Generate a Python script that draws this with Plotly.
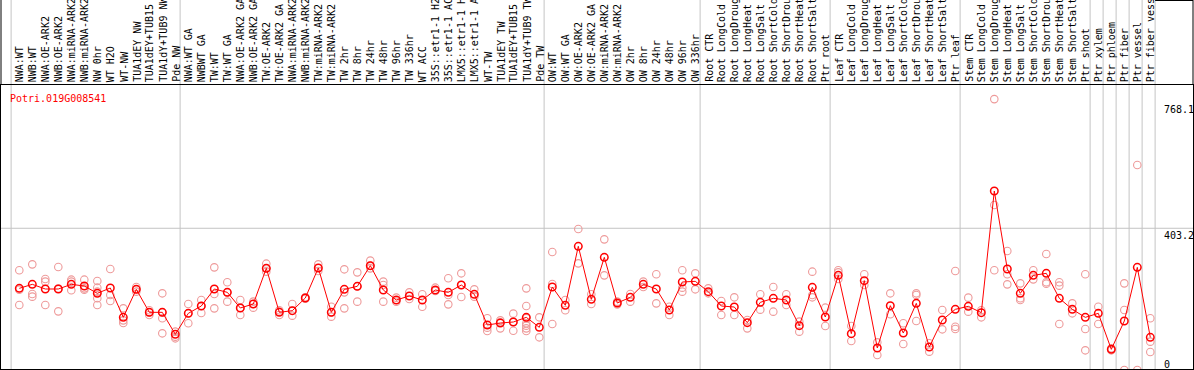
import plotly.graph_objects as go

gene = "Potri.019G008541"

labels = [
    "NWA:WT", "NWB:WT", "NWA:OE-ARK2", "NWB:OE-ARK2", "NWA:miRNA-ARK2", "NWB:miRNA-ARK2",
    "NW 0hr", "WT H2O", "WT-NW", "TUA1dEY NW", "TUA1dEY+TUB15 NW", "TUA1dY+TUB9 NW", "Pde NW",
    "NWA:WT GA", "NWBWT GA", "TW:WT", "TW:WT GA", "NWA:OE-ARK2 GA", "NWB:OE-ARK2 GA",
    "TW:OE-ARK2", "TW:OE-ARK2 GA", "NWA:miRNA-ARK2 GA", "NWB:miRNA-ARK2 GA", "TW:miRNA-ARK2",
    "TW:miRNA-ARK2 GA", "TW 2hr", "TW 8hr", "TW 24hr", "TW 48hr", "TW 96hr", "TW 336hr", "WT ACC",
    "35S::etr1-1 H2O", "35S::etr1-1 ACC", "LMX5::etr1-1 H2O", "LMX5::etr1-1 ACC", "WT-TW",
    "TUA1dEY TW", "TUA1dEY+TUB15 TW", "TUA1dY+TUB9 TW", "Pde TW",
    "OW:WT", "OW:WT GA", "OW:OE-ARK2", "OW:OE-ARK2 GA", "OW:miRNA-ARK2", "OW:miRNA-ARK2 GA",
    "OW 2hr", "OW 8hr", "OW 24hr", "OW 48hr", "OW 96hr", "OW 336hr",
    "Root CTR", "Root LongCold", "Root LongDrought", "Root LongHeat", "Root LongSalt",
    "Root ShortCold", "Root ShortDrought", "Root ShortHeat", "Root ShortSalt", "Ptr root",
    "Leaf CTR", "Leaf LongCold", "Leaf LongDrought", "Leaf LongHeat", "Leaf LongSalt",
    "Leaf ShortCold", "Leaf ShortDrought", "Leaf ShortHeat", "Leaf ShortSalt", "Ptr leaf",
    "Stem CTR", "Stem LongCold", "Stem LongDrought", "Stem LongHeat", "Stem LongSalt",
    "Stem ShortCold", "Stem ShortDrought", "Stem ShortHeat", "Stem ShortSalt", "Ptr shoot",
    "Ptr xylem", "Ptr phloem", "Ptr fiber", "Ptr vessel", "Ptr fiber vessel",
]

means = [
    233.5, 244.8, 231.6, 231.6, 244.8, 240.1, 219.4, 234.5, 151.6, 230.7, 165.7, 165.7, 103.6,
    162.9, 183.6, 231.6, 222.2, 178.0, 189.3, 290.0, 165.7, 170.4, 206.2, 291.0, 165.7, 230.7,
    239.2, 297.6, 228.8, 200.6, 211.9, 200.6, 228.8, 222.2, 242.9, 216.6, 129.9, 135.6, 138.4,
    151.6, 123.4,
    237.3, 185.5, 352.2, 202.4, 321.1, 192.1, 208.1, 244.8, 231.6, 172.3, 251.4, 253.3,
    224.1, 183.6, 180.8, 136.5, 194.0, 205.3, 200.6, 128.1, 236.3, 152.5,
    270.2, 105.5, 255.2, 65.0, 184.6, 107.3, 191.1, 67.8, 144.1, 174.2,
    182.7, 164.8, 508.5, 288.1, 219.4, 270.2, 275.9, 205.3, 174.2, 151.6,
    162.9, 61.2, 141.2, 292.8, 95.1,
]

replicates = [
    [284.4, 229.8, 186.4], [301.3, 217.5, 210.0], [259.9, 252.4, 186.4], [293.8, 232.6, 168.5],
    [258.0, 252.4, 227.9], [258.0, 233.5, 229.8], [254.2, 235.4, 224.1, 205.3, 186.4],
    [288.1, 214.7, 197.7], [177.0, 143.1, 135.6], [237.3, 230.7, 224.1], [171.4, 165.7, 158.2],
    [219.4, 165.7, 148.8, 106.4], [111.1, 97.0, 92.3],
    [189.3, 162.9, 134.7], [200.6, 183.6, 163.8], [292.8, 217.5, 177.0], [250.5, 222.2, 195.9],
    [200.6, 178.0, 158.2], [195.9, 189.3, 178.9], [303.2, 290.0, 280.6], [171.4, 167.6, 158.2],
    [189.3, 170.4, 156.3], [208.1, 206.2, 204.3], [301.3, 291.0, 282.5], [181.7, 165.7, 153.5],
    [287.2, 222.2, 177.0], [278.7, 239.2, 195.9], [311.7, 297.6, 290.0], [252.4, 242.9, 195.9],
    [207.2, 195.9], [222.2, 203.4], [216.6, 181.7], [235.4, 226.0], [261.8, 214.7, 188.3],
    [275.9, 242.9, 209.0], [230.7, 210.0], [148.8, 122.4, 113.0], [143.1, 137.5, 120.5],
    [162.0, 138.4, 113.9], [233.5, 183.6, 148.8, 134.7, 128.1, 120.5, 113.0], [151.6, 95.1],
    [336.2, 245.8, 132.8], [200.6, 171.4], [401.1, 304.1], [216.6, 189.3], [371.9, 270.2],
    [195.9, 188.3], [217.5, 195.9], [252.4, 237.3], [273.1, 191.1], [181.7, 158.2],
    [284.4, 235.4, 224.1], [275.9, 230.7],
    [233.5, 219.4], [197.7, 158.2], [208.1, 158.2], [144.1, 120.5], [216.6, 173.3],
    [237.3, 167.6], [216.6, 186.4], [139.4, 111.1], [280.6, 214.7, 208.1], [178.9, 127.1],
    [284.4, 259.9, 278.7], [127.1, 84.7], [273.1, 242.9], [81.0, 45.2], [219.4, 160.1],
    [134.7, 76.3], [219.4, 214.7, 141.2], [78.2, 54.6], [172.3, 117.7], [282.5, 125.2, 118.6],
    [207.2, 167.6], [171.4, 151.6], [768.1, 468.9, 284.4], [339.0, 273.1, 244.8],
    [247.6, 205.3, 200.6], [284.4, 258.9], [330.5, 250.5, 246.7], [250.5, 241.1, 132.8],
    [191.1, 162.9], [273.1, 118.6, 58.4],
    [181.7, 132.8], [64.0, 58.4], [247.6, 172.3, 2.8], [581.9, 2.8], [148.8, 82.9, 53.7],
]

# group separators: last index of each group
group_ends = [-1, 12, 40, 52, 62, 72, 82, 83, 84, 85, 86, 87]
axis_tick_text = ["768.1", "403.2", "0"]
grid_value = 403.2
label_chars = 14  # header column only has room for this many characters

W, H = 1194, 370
ML, MR, MT, MB = 1, 1, 85, 1
plot_h = H - MT - MB
x_range = [-1.4077, 90.2846]
y_range = [5.65, 807.9]

red = "#ff0000"
pink = "#ee9a9a"
mono = "DejaVu Sans Mono"

fig = go.Figure()

rx, ry = [], []
for i, reps in enumerate(replicates):
    for v in reps:
        rx.append(i)
        ry.append(v)

fig.add_trace(go.Scatter(
    x=rx, y=ry, mode="markers",
    marker=dict(symbol="circle-open", size=7.5, color=pink, line=dict(width=1.1, color=pink)),
    hoverinfo="skip", showlegend=False,
))
fig.add_trace(go.Scatter(
    x=list(range(len(means))), y=means, mode="lines+markers",
    line=dict(color=red, width=1),
    marker=dict(symbol="circle-open", size=7.5, color=red, line=dict(width=1.5, color=red)),
    showlegend=False,
))

def py(pix):
    """page pixel y -> paper y"""
    return 1 - (pix - MT) / plot_h

shapes = []
for k in group_ends:
    shapes.append(dict(type="line", xref="x", yref="paper", x0=k + 0.37, x1=k + 0.37,
                       y0=0, y1=py(0), line=dict(color="#c4c4c4", width=1), layer="below"))
shapes.append(dict(type="line", xref="paper", yref="y", x0=0, x1=1, y0=grid_value, y1=grid_value,
                   line=dict(color="#c4c4c4", width=1), layer="below"))
# frame extensions in the header
shapes.append(dict(type="line", xref="paper", yref="paper", x0=0, x1=0, y0=1, y1=py(0),
                   line=dict(color="black", width=1)))
shapes.append(dict(type="line", xref="paper", yref="paper", x0=1, x1=1, y0=1, y1=py(0),
                   line=dict(color="black", width=1)))
shapes.append(dict(type="line", xref="x", yref="paper", x0=87.37, x1=x_range[1], y0=py(0.5), y1=py(0.5),
                   line=dict(color="black", width=1)))

annotations = []
for i, lab in enumerate(labels):
    annotations.append(dict(
        x=i, xref="x", y=py(84), yref="paper", text=lab[:label_chars], textangle=-90,
        xanchor="center", yanchor="bottom", showarrow=False, xshift=1,
        font=dict(family=mono, size=10, color="black"),
    ))
annotations.append(dict(x=(8 - ML) / (W - ML - MR), xref="paper", y=py(91), yref="paper",
                        text=gene, xanchor="left", yanchor="top", showarrow=False,
                        font=dict(family=mono, size=10, color=red)))
tick_y_pix = [101.5, 227.5, 356.5]
for t, yp in zip(axis_tick_text, tick_y_pix):
    annotations.append(dict(x=(1162 - ML) / (W - ML - MR), xref="paper", y=py(yp), yref="paper",
                            text=t, xanchor="left", yanchor="top", showarrow=False,
                            font=dict(family=mono, size=10, color="black")))

fig.update_layout(
    width=W, height=H,
    margin=dict(l=ML, r=MR, t=MT, b=MB, pad=0),
    paper_bgcolor="white", plot_bgcolor="white",
    shapes=shapes, annotations=annotations,
    xaxis=dict(range=x_range, showgrid=False, zeroline=False, showticklabels=False, ticks="",
               showline=True, mirror=True, linecolor="black", linewidth=1),
    yaxis=dict(range=y_range, showgrid=False, zeroline=False, showticklabels=False, ticks="",
               showline=True, mirror=True, linecolor="black", linewidth=1),
    hovermode=False,
)

fig.write_html("out.html", config={"displayModeBar": False},
               post_script="document.body.style.margin='0';document.body.style.overflow='hidden';")
